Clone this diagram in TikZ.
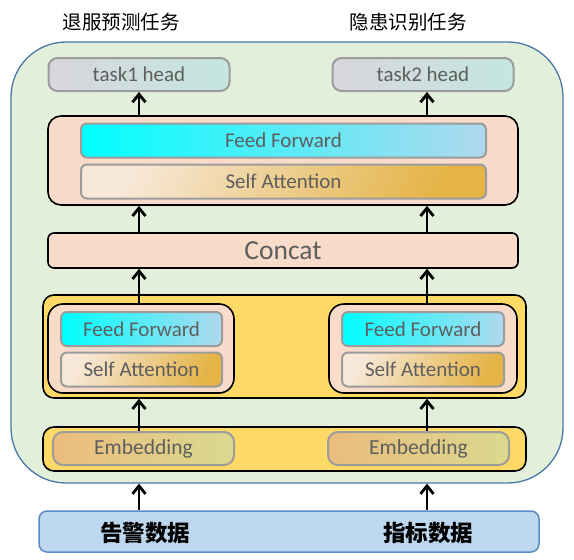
\documentclass[tikz,border=0pt]{standalone}
\usepackage{fontspec}
\setmainfont{Carlito}
\newfontfamily\cjk{Noto Sans CJK SC}
\usetikzlibrary{arrows.meta,positioning}
\definecolor{zold}{HTML}{E2EFDA}
\definecolor{keretkek}{HTML}{4A78A6}
\definecolor{barack}{HTML}{F9DBCA}
\definecolor{sarga}{HTML}{FFD966}
\definecolor{szurke}{HTML}{9C9C9C}
\definecolor{betu}{HTML}{5E5E5E}
\definecolor{halvany}{HTML}{BDD7EE}
\definecolor{bemenetkek}{HTML}{5B8BC4}
\definecolor{fejbal}{HTML}{D8D6DC}
\definecolor{fejjobb}{HTML}{C4E7DE}
\definecolor{cian}{HTML}{00FFFF}
\definecolor{vkek}{HTML}{B0D8EE}
\definecolor{sabal}{HTML}{F7E8D8}
\definecolor{sajobb}{HTML}{E4B447}
\definecolor{embbal}{HTML}{EBBC7E}
\definecolor{embjobb}{HTML}{DAD98E}
\tikzset{
  keret/.style={draw=keretkek,line width=1.3pt,fill=zold,rounded corners=55pt,inner sep=0pt},
  fej/.style={draw=szurke,line width=2pt,rounded corners=9pt,left color=fejbal,right color=fejjobb,
              text=betu,font=\fontsize{21}{24}\selectfont,minimum width=181pt,minimum height=33pt},
  blokk/.style={draw,line width=1.6pt,fill=barack,rounded corners=13pt,inner sep=0pt},
  sargablokk/.style={draw,line width=1.6pt,fill=sarga,rounded corners=11pt,inner sep=0pt},
  ff/.style={draw=szurke,line width=2pt,rounded corners=6pt,left color=cian,right color=vkek,
             text=betu,font=\fontsize{21}{24}\selectfont,minimum height=34pt},
  sa/.style={draw=szurke,line width=2pt,rounded corners=6pt,left color=sabal,right color=sajobb,
             shading angle=65,text=betu,font=\fontsize{21}{24}\selectfont,minimum height=34pt},
  emb/.style={draw=szurke,line width=2pt,rounded corners=10pt,left color=embbal,right color=embjobb,
              text=betu,font=\fontsize{21.5}{24}\selectfont,minimum width=181pt,minimum height=33pt},
  bemenet/.style={draw=bemenetkek,line width=1.5pt,fill=halvany,rounded corners=8pt,inner sep=0pt},
  cim/.style={font=\cjk\fontsize{19.5}{22}\selectfont},
  adat/.style={font=\cjk\bfseries\fontsize{22.5}{26}\selectfont},
  nyil/.style={-{Straight Barb[length=8pt,width=13pt]},line width=2.8pt},
}
\begin{document}
\begin{tikzpicture}[x=1pt,y=-1pt]
  \useasboundingbox (0,0) rectangle (574,560);
  \node[cim] (c1) at (121.5,22) {退服预测任务};
  \node[cim] (c2) at (408,22) {隐患识别任务};
  \node[keret,minimum width=552pt,minimum height=441pt] (keret) at (287,262.5) {};
  \node[fej] (t1) at (139,74.5) {task1 head};
  \node[fej] (t2) at (423,74.5) {task2 head};
  \node[blokk,minimum width=470pt,minimum height=89pt] (felso) at (283,160.5) {};
  \node[ff,minimum width=405pt] (ff0) at (283.5,140.5) {Feed Forward};
  \node[sa,minimum width=405pt] (sa0) at (283.5,181.5) {Self Attention};
  \node[blokk,rounded corners=6pt,minimum width=470pt,minimum height=35pt,text=betu,
        font=\fontsize{27.5}{30}\selectfont] (concat) at (283,250.5) {Concat};
  \node[sargablokk,minimum width=483pt,minimum height=103pt] (sarga1) at (284.5,346.5) {};
  \node[blokk,rounded corners=15pt,minimum width=186pt,minimum height=89pt] (enc1) at (141,348.5) {};
  \node[ff,minimum width=161pt] (ff1) at (141.5,329) {Feed Forward};
  \node[sa,minimum width=161pt] (sa1) at (141.5,369.5) {Self Attention};
  \node[blokk,rounded corners=15pt,minimum width=188pt,minimum height=89pt] (enc2) at (423,348.5) {};
  \node[ff,minimum width=162pt] (ff2) at (423,329) {Feed Forward};
  \node[sa,minimum width=162pt] (sa2) at (423,369.5) {Self Attention};
  \node[sargablokk,minimum width=483pt,minimum height=44pt] (sarga2) at (284.5,449) {};
  \node[emb] (emb1) at (143.5,448.5) {Embedding};
  \node[emb] (emb2) at (418.5,448.5) {Embedding};
  \node[bemenet,minimum width=500pt,minimum height=41pt] (bemenet) at (289,531.5) {};
  \node[adat] (d1) at (145,533) {告警数据};
  \node[adat] (d2) at (428,533) {指标数据};
  \coordinate (bal) at (139,0);
  \coordinate (jobb) at (427,0);
  \draw[nyil] (bal |- felso.north) -- (bal |- t1.south);
  \draw[nyil] (jobb |- felso.north) -- (jobb |- t2.south);
  \draw[nyil] (bal |- concat.north) -- (bal |- felso.south);
  \draw[nyil] (jobb |- concat.north) -- (jobb |- felso.south);
  \draw[nyil] (bal |- enc1.north) -- (bal |- concat.south);
  \draw[nyil] (jobb |- enc2.north) -- (jobb |- concat.south);
  \draw[nyil] (bal |- emb1.north) -- (bal |- sarga1.south);
  \draw[nyil] (jobb |- emb2.north) -- (jobb |- sarga1.south);
  \draw[nyil] (bal |- bemenet.north) -- (bal |- keret.south);
  \draw[nyil] (jobb |- bemenet.north) -- (jobb |- keret.south);
\end{tikzpicture}
\end{document}
